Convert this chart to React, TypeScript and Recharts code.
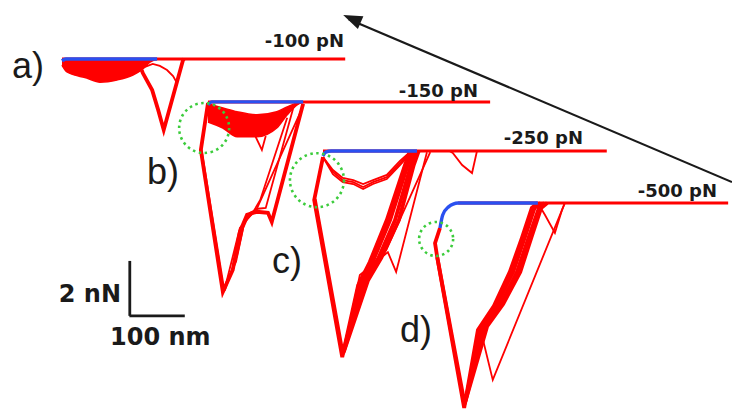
import { Area, ComposedChart, Line, ReferenceDot, ReferenceLine, Scatter, XAxis, YAxis } from 'recharts'

const WIDTH = 732
const HEIGHT = 412
// chart units: piezo distance in nm, force in nN (100 nm = 2 nN on screen)
const X_DOMAIN = [0, 1331]
const Y_DOMAIN = [-15, 0]

const RED = '#ff0000'
const BLUE = '#2a50f0'
const GREEN = '#3ccc3c'
const INK = '#1a1a1a'

type Pt = [number, number]

const PANEL_LABELS = ['a)', 'b)', 'c)', 'd)']
const SET_POINTS = ['-100 pN', '-150 pN', '-250 pN', '-500 pN']
// contact point of each stacked curve (nm, nN)
const PANEL_X = [112.7, 378.2, 587.3, 800.0]
const PANEL_F = [-2.15, -3.71, -5.5, -7.39]

// a) -100 pN
const A_APPROACH: Pt[] = [[0, -0.07], [7, 0], [173, 0]]
const A_BASELINE: Pt[] = [[0, 0], [515, 0]]
const A_BAND_X = [0, 9, 45, 69, 100, 129, 147, 160, 173]
const A_BAND_LOW = [-0.22, -0.47, -0.69, -0.84, -0.76, -0.58, -0.36, -0.11, 0]
const A_BAND_HIGH = [0, 0, 0, 0, 0, 0, 0, 0, 0]
const A_THICK: Pt[][] = [
    [[145, -0.4], [147, -0.51], [164, -1.13], [175, -1.86], [185, -2.58], [220, -0.04], [222, 0]],
]
const A_THIN: Pt[][] = [
    [[145, -0.33], [165, -0.18], [178, -0.25], [191, -0.4], [202, -0.62], [209, -0.87], [220, -0.04]],
]

// b) -150 pN
const B_APPROACH: Pt[] = [[0, -0.11], [7, 0], [173, 0]]
const B_BASELINE: Pt[] = [[0, 0], [513, 0]]
const B_BAND_X = [0, 27, 53, 89, 125, 144, 162, 173]
const B_BAND_LOW = [-0.73, -0.95, -1.27, -1.27, -0.95, -0.47, -0.11, 0]
const B_BAND_HIGH = [-0.07, -0.22, -0.36, -0.47, -0.36, -0.18, -0.04, 0]
const B_THICK: Pt[][] = [
    [[0, -0.04], [-13, -1.75], [27, -6.92], [45, -6.12], [58, -4.73], [71, -4.11], [89, -4.0], [109, -4.04], [116, -4.37], [173, -0.07]],
]
const B_THIN: Pt[][] = [
    [[0, -0.04], [-12, -1.7], [29, -6.77], [51, -5.82], [64, -4.59], [76, -4.04], [91, -3.89], [105, -3.86], [155, -0.22], [160, 0]],
    [[27, -6.92], [31, -6.84], [53, -5.57], [67, -4.3], [87, -3.97], [173, -0.15]],
    [[29, -6.92], [58, -4.59], [80, -4.08], [95, -3.57], [144, -0.58]],
    [[85, -1.2], [98, -1.75], [105, -1.24]],
]

// c) -250 pN
const C_APPROACH: Pt[] = [[0, -0.18], [5, -0.04], [15, 0], [171, 0]]
const C_BASELINE: Pt[] = [[0, 0], [516, 0]]
const C_THICK: Pt[][] = [
    [[0, -0.22], [-16, -1.78], [35, -7.5], [64, -4.88], [85, -4.04], [116, -2.51], [149, -0.51], [158, 0]],
    [[-15, -1.75], [36, -7.39], [69, -4.84], [91, -4.0], [122, -2.51], [154, -0.51], [163, 0]],
    [[37, -7.35], [76, -4.77], [100, -3.93], [131, -2.51], [160, -0.51], [169, 0]],
    [[38, -7.3], [82, -4.7], [106, -3.89], [138, -2.51], [165, -0.51], [174, 0]],
]
const C_THIN: Pt[][] = [
    [[38, -7.24], [67, -4.51], [118, -3.68], [133, -4.4], [189, -0.04]],
    [[40, -7.17], [71, -4.48], [115, -3.6], [195, -0.04]],
    [[0, -0.22], [18, -0.76], [36, -1.06], [55, -1.13], [73, -1.31], [91, -1.13], [116, -0.95], [140, -0.44], [158, -0.07], [164, 0]],
    [[0, -0.22], [18, -0.69], [36, -0.98], [55, -1.06], [73, -1.2], [91, -1.06], [116, -0.87], [140, -0.36], [158, -0.04], [167, 0]],
    [[0, -0.22], [18, -0.84], [36, -1.13], [55, -1.2], [73, -1.38], [91, -1.2], [116, -1.02], [140, -0.51], [158, -0.11], [171, 0]],
    [[230, 0], [236, -0.07], [253, -0.51], [271, -0.8], [280, 0]],
]

// d) -500 pN
const D_APPROACH: Pt[] = [[0, -0.91], [5, -0.44], [15, -0.15], [33, 0], [178, 0]]
const D_BASELINE: Pt[] = [[33, 0], [524, 0]]
const D_THICK: Pt[][] = [
    [[0, -0.91], [-9, -1.46], [-5, -1.97], [44, -7.46], [69, -4.62], [98, -3.75], [127, -2.51], [149, -1.27], [167, -0.18], [178, 0]],
    [[-5, -1.97], [45, -7.32], [74, -4.58], [103, -3.73], [133, -2.51], [154, -1.27], [172, -0.18], [183, 0]],
    [[46, -7.25], [80, -4.52], [110, -3.7], [140, -2.51], [161, -1.27], [180, -0.18], [190, 0]],
    [[47, -7.17], [86, -4.48], [115, -3.68], [146, -2.51], [166, -1.27], [184, -0.18], [195, 0]],
]
const D_THIN: Pt[][] = [
    [[47, -7.17], [76, -4.8], [96, -6.44], [222, -0.25], [227, 0]],
    [[178, 0], [191, -0.44], [209, -1.09], [222, -0.25], [227, 0]],
]

// green circles around the first rupture, relative to contact point
const CIRCLE_PANELS = [1, 2, 3]
const CIRCLE_AT: Pt[] = [[-7, -0.95], [-11, -1.06], [-7, -1.31]]
const CIRCLE_R = [25, 27, 17]

// scale bar and arrow (nm, nN)
const SCALE_ORIGIN: Pt = [236, -11.5]
const SCALE_NM = 100
const SCALE_NN = 2
const ARROW_TAIL: Pt = [1331, -6.63]
const ARROW_HEAD: Pt = [624, -0.55]

const APPROACH = [A_APPROACH, B_APPROACH, C_APPROACH, D_APPROACH]
const BASELINE = [A_BASELINE, B_BASELINE, C_BASELINE, D_BASELINE]
const THICK = [A_THICK, B_THICK, C_THICK, D_THICK]
const THIN = [A_THIN, B_THIN, C_THIN, D_THIN]
const BANDS = [
    { p: 0, x: A_BAND_X, low: A_BAND_LOW, high: A_BAND_HIGH },
    { p: 1, x: B_BAND_X, low: B_BAND_LOW, high: B_BAND_HIGH },
]

const place = (pts: Pt[], p: number) =>
    pts.map(([x, f]) => ({ x: PANEL_X[p] + x, f: PANEL_F[p] + f }))

const PX_NM = WIDTH / (X_DOMAIN[1] - X_DOMAIN[0])
const PX_NN = HEIGHT / (Y_DOMAIN[1] - Y_DOMAIN[0])
const ARROW_ANGLE =
    (Math.atan2(-(ARROW_HEAD[1] - ARROW_TAIL[1]) * PX_NN, (ARROW_HEAD[0] - ARROW_TAIL[0]) * PX_NM) * 180) /
    Math.PI

function ArrowHead(props: any) {
    const { cx, cy } = props
    return (
        <polygon
            points="0,0 -19,-7 -19,7"
            transform={`translate(${cx},${cy}) rotate(${ARROW_ANGLE})`}
            fill={INK}
        />
    )
}

const bold = { fontFamily: '"DejaVu Sans", Verdana, sans-serif', fontWeight: 700 }
const plain = { fontFamily: '"Liberation Sans", Arial, sans-serif', fontWeight: 400 }

export default function App() {
    return (
        <div style={{ position: 'absolute', left: 0, top: 0, width: WIDTH, height: HEIGHT, background: '#fff' }}>
            <ComposedChart width={WIDTH} height={HEIGHT} margin={{ top: 0, right: 0, bottom: 0, left: 0 }}>
                <XAxis type="number" dataKey="x" domain={X_DOMAIN} hide allowDataOverflow />
                <YAxis type="number" dataKey="f" domain={Y_DOMAIN} hide allowDataOverflow />

                {BANDS.map((b) => (
                    <Area
                        key={`band${b.p}`}
                        data={b.x.map((x, i) => ({
                            x: PANEL_X[b.p] + x,
                            f: [PANEL_F[b.p] + b.low[i], PANEL_F[b.p] + b.high[i]],
                        }))}
                        dataKey="f"
                        type="monotone"
                        stroke={RED}
                        strokeWidth={1.5}
                        fill={RED}
                        fillOpacity={1}
                        dot={false}
                        activeDot={false}
                        isAnimationActive={false}
                    />
                ))}

                {BASELINE.map((pts, p) => (
                    <Line
                        key={`base${p}`}
                        data={place(pts, p)}
                        dataKey="f"
                        type="linear"
                        stroke={RED}
                        strokeWidth={3}
                        dot={false}
                        activeDot={false}
                        isAnimationActive={false}
                    />
                ))}

                {THIN.map((traces, p) =>
                    traces.map((pts, i) => (
                        <Line
                            key={`thin${p}-${i}`}
                            data={place(pts, p)}
                            dataKey="f"
                            type="linear"
                            stroke={RED}
                            strokeWidth={1.8}
                            dot={false}
                            activeDot={false}
                            isAnimationActive={false}
                        />
                    )),
                )}

                {THICK.map((traces, p) =>
                    traces.map((pts, i) => (
                        <Line
                            key={`thick${p}-${i}`}
                            data={place(pts, p)}
                            dataKey="f"
                            type="linear"
                            stroke={RED}
                            strokeWidth={3.8}
                            dot={false}
                            activeDot={false}
                            isAnimationActive={false}
                        />
                    )),
                )}

                {APPROACH.map((pts, p) => (
                    <Line
                        key={`app${p}`}
                        data={place(pts, p)}
                        dataKey="f"
                        type="monotone"
                        stroke={BLUE}
                        strokeWidth={3.4}
                        dot={false}
                        activeDot={false}
                        isAnimationActive={false}
                    />
                ))}

                {CIRCLE_PANELS.map((p, i) => (
                    <ReferenceDot
                        key={`circ${p}`}
                        x={PANEL_X[p] + CIRCLE_AT[i][0]}
                        y={PANEL_F[p] + CIRCLE_AT[i][1]}
                        r={CIRCLE_R[i]}
                        fill="none"
                        stroke={GREEN}
                        strokeWidth={2.6}
                        strokeDasharray="2.5 3.5"
                        ifOverflow="visible"
                    />
                ))}

                <ReferenceLine
                    segment={[
                        { x: SCALE_ORIGIN[0], y: SCALE_ORIGIN[1] + SCALE_NN },
                        { x: SCALE_ORIGIN[0], y: SCALE_ORIGIN[1] },
                    ]}
                    stroke={INK}
                    strokeWidth={2.8}
                    ifOverflow="visible"
                />
                <ReferenceLine
                    segment={[
                        { x: SCALE_ORIGIN[0] - 0.7, y: SCALE_ORIGIN[1] },
                        { x: SCALE_ORIGIN[0] + SCALE_NM, y: SCALE_ORIGIN[1] },
                    ]}
                    stroke={INK}
                    strokeWidth={2.8}
                    ifOverflow="visible"
                />

                <ReferenceLine
                    segment={[
                        { x: ARROW_TAIL[0], y: ARROW_TAIL[1] },
                        { x: ARROW_HEAD[0] + 10, y: ARROW_HEAD[1] - 0.15 },
                    ]}
                    stroke={INK}
                    strokeWidth={2.2}
                    ifOverflow="visible"
                />
                <Scatter
                    data={[{ x: ARROW_HEAD[0], f: ARROW_HEAD[1] }]}
                    dataKey="f"
                    shape={ArrowHead}
                    activeShape={ArrowHead}
                    isAnimationActive={false}
                />
            </ComposedChart>

            <svg
                width={WIDTH}
                height={HEIGHT}
                style={{ position: 'absolute', left: 0, top: 0, pointerEvents: 'none' }}
            >
                <g fill={INK} style={plain} fontSize={36}>
                    <text x={12} y={78}>{PANEL_LABELS[0]}</text>
                    <text x={147} y={184}>{PANEL_LABELS[1]}</text>
                    <text x={272} y={273}>{PANEL_LABELS[2]}</text>
                    <text x={400} y={342}>{PANEL_LABELS[3]}</text>
                </g>
                <g fill={INK} style={bold} fontSize={18} textAnchor="end">
                    <text x={344} y={47}>{SET_POINTS[0]}</text>
                    <text x={478} y={97}>{SET_POINTS[1]}</text>
                    <text x={583} y={144}>{SET_POINTS[2]}</text>
                    <text x={717} y={197}>{SET_POINTS[3]}</text>
                </g>
                <g fill={INK} style={bold} fontSize={24}>
                    <text x={121} y={302} textAnchor="end">2 nN</text>
                    <text x={110} y={345}>100 nm</text>
                </g>
            </svg>
        </div>
    )
}
